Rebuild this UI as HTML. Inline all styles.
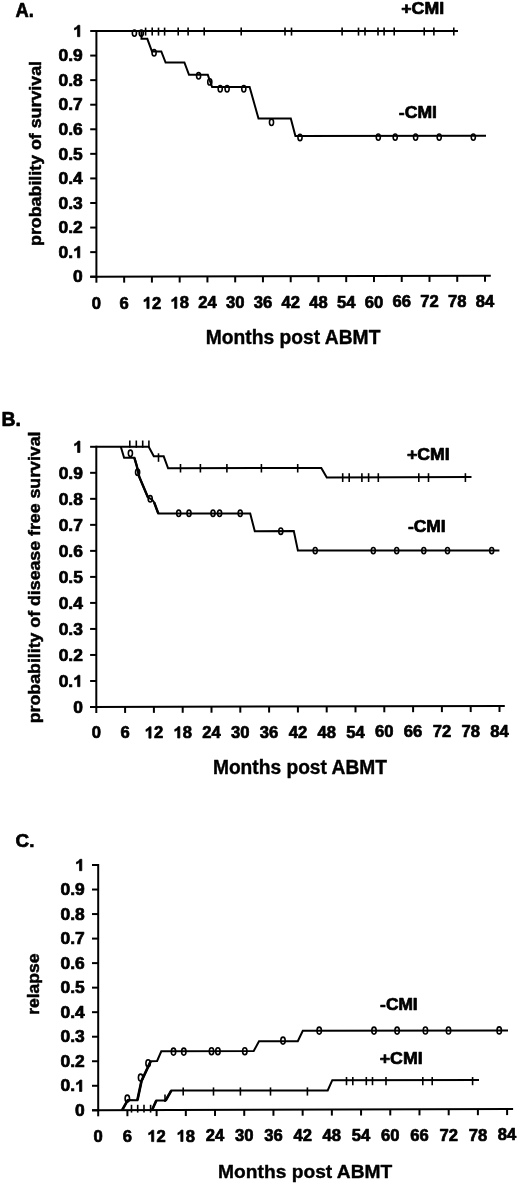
<!DOCTYPE html>
<html><head><meta charset="utf-8"><style>
html,body{margin:0;padding:0;background:#fff;overflow:hidden;}
svg{display:block;will-change:transform;filter:blur(0.3px);}
text{font-family:"Liberation Sans",sans-serif;font-weight:bold;fill:#000;stroke:#000;stroke-width:0.7px;stroke-linejoin:round;}
.t path{fill:#000;stroke:#000;stroke-linejoin:round;}
</style></head><body>
<svg width="520" height="1185" viewBox="0 0 520 1185">
<g stroke="#000" stroke-linecap="butt" fill="none">
<line x1="96.40" y1="30.00" x2="96.40" y2="277.70" stroke-width="2.0"/>
<line x1="90.20" y1="276.71" x2="490.80" y2="275.79" stroke-width="2.0"/>
<line x1="90.20" y1="31.00" x2="96.40" y2="31.00" stroke-width="2.0"/>
<line x1="90.20" y1="55.57" x2="96.40" y2="55.57" stroke-width="2.0"/>
<line x1="90.20" y1="80.14" x2="96.40" y2="80.14" stroke-width="2.0"/>
<line x1="90.20" y1="104.71" x2="96.40" y2="104.71" stroke-width="2.0"/>
<line x1="90.20" y1="129.28" x2="96.40" y2="129.28" stroke-width="2.0"/>
<line x1="90.20" y1="153.85" x2="96.40" y2="153.85" stroke-width="2.0"/>
<line x1="90.20" y1="178.42" x2="96.40" y2="178.42" stroke-width="2.0"/>
<line x1="90.20" y1="202.99" x2="96.40" y2="202.99" stroke-width="2.0"/>
<line x1="90.20" y1="227.56" x2="96.40" y2="227.56" stroke-width="2.0"/>
<line x1="90.20" y1="252.13" x2="96.40" y2="252.13" stroke-width="2.0"/>
<line x1="90.20" y1="276.70" x2="96.40" y2="276.70" stroke-width="2.0"/>
<line x1="96.40" y1="276.70" x2="96.40" y2="282.70" stroke-width="2.0"/>
<line x1="124.16" y1="276.64" x2="124.16" y2="282.64" stroke-width="2.0"/>
<line x1="151.91" y1="276.57" x2="151.91" y2="282.57" stroke-width="2.0"/>
<line x1="179.67" y1="276.51" x2="179.67" y2="282.51" stroke-width="2.0"/>
<line x1="207.43" y1="276.44" x2="207.43" y2="282.44" stroke-width="2.0"/>
<line x1="235.19" y1="276.38" x2="235.19" y2="282.38" stroke-width="2.0"/>
<line x1="262.94" y1="276.31" x2="262.94" y2="282.31" stroke-width="2.0"/>
<line x1="290.70" y1="276.25" x2="290.70" y2="282.25" stroke-width="2.0"/>
<line x1="318.46" y1="276.19" x2="318.46" y2="282.19" stroke-width="2.0"/>
<line x1="346.21" y1="276.12" x2="346.21" y2="282.12" stroke-width="2.0"/>
<line x1="373.97" y1="276.06" x2="373.97" y2="282.06" stroke-width="2.0"/>
<line x1="401.73" y1="275.99" x2="401.73" y2="281.99" stroke-width="2.0"/>
<line x1="429.49" y1="275.93" x2="429.49" y2="281.93" stroke-width="2.0"/>
<line x1="457.24" y1="275.86" x2="457.24" y2="281.86" stroke-width="2.0"/>
<line x1="485.00" y1="275.80" x2="485.00" y2="281.80" stroke-width="2.0"/>
<line x1="96.40" y1="31.00" x2="458.00" y2="31.00" stroke-width="2.0"/>
<line x1="145.60" y1="27.60" x2="145.60" y2="35.60" stroke-width="1.6"/>
<line x1="152.20" y1="27.60" x2="152.20" y2="35.60" stroke-width="1.6"/>
<line x1="158.50" y1="27.60" x2="158.50" y2="35.60" stroke-width="1.6"/>
<line x1="164.60" y1="27.60" x2="164.60" y2="35.60" stroke-width="1.6"/>
<line x1="178.20" y1="27.60" x2="178.20" y2="35.60" stroke-width="1.6"/>
<line x1="188.10" y1="27.60" x2="188.10" y2="35.60" stroke-width="1.6"/>
<line x1="204.20" y1="27.60" x2="204.20" y2="35.60" stroke-width="1.6"/>
<line x1="241.20" y1="27.60" x2="241.20" y2="35.60" stroke-width="1.6"/>
<line x1="285.00" y1="27.60" x2="285.00" y2="35.60" stroke-width="1.6"/>
<line x1="291.50" y1="27.60" x2="291.50" y2="35.60" stroke-width="1.6"/>
<line x1="342.10" y1="27.60" x2="342.10" y2="35.60" stroke-width="1.6"/>
<line x1="358.50" y1="27.60" x2="358.50" y2="35.60" stroke-width="1.6"/>
<line x1="365.00" y1="27.60" x2="365.00" y2="35.60" stroke-width="1.6"/>
<line x1="378.00" y1="27.60" x2="378.00" y2="35.60" stroke-width="1.6"/>
<line x1="384.10" y1="27.60" x2="384.10" y2="35.60" stroke-width="1.6"/>
<line x1="394.20" y1="27.60" x2="394.20" y2="35.60" stroke-width="1.6"/>
<line x1="424.20" y1="27.60" x2="424.20" y2="35.60" stroke-width="1.6"/>
<line x1="433.90" y1="27.60" x2="433.90" y2="35.60" stroke-width="1.6"/>
<line x1="453.80" y1="27.60" x2="453.80" y2="35.60" stroke-width="1.6"/>
<ellipse cx="134.40" cy="33.10" rx="2.05" ry="3.15" stroke-width="1.6"/>
<ellipse cx="141.30" cy="33.10" rx="2.05" ry="3.15" stroke-width="1.6"/>
<polyline points="96.40,31.00 141.50,31.00 141.50,38.80 147.30,38.80 152.00,51.50 161.30,51.50 165.60,62.50 184.40,62.50 189.00,74.80 207.80,74.80 212.10,87.10 249.60,87.10 258.50,118.50 290.80,118.50 295.40,135.90 486.00,135.80" stroke-width="2.0" stroke-linejoin="miter"/>
<ellipse cx="154.10" cy="52.80" rx="2.05" ry="3.15" stroke-width="1.6"/>
<ellipse cx="198.60" cy="75.80" rx="2.05" ry="3.15" stroke-width="1.6"/>
<ellipse cx="209.80" cy="81.90" rx="2.05" ry="3.15" stroke-width="1.6"/>
<ellipse cx="220.20" cy="88.80" rx="2.05" ry="3.15" stroke-width="1.6"/>
<ellipse cx="227.10" cy="88.80" rx="2.05" ry="3.15" stroke-width="1.6"/>
<ellipse cx="243.80" cy="88.80" rx="2.05" ry="3.15" stroke-width="1.6"/>
<ellipse cx="271.50" cy="122.30" rx="2.05" ry="3.15" stroke-width="1.6"/>
<ellipse cx="300.00" cy="137.50" rx="2.05" ry="3.15" stroke-width="1.6"/>
<ellipse cx="378.30" cy="137.10" rx="2.05" ry="3.15" stroke-width="1.6"/>
<ellipse cx="395.20" cy="137.10" rx="2.05" ry="3.15" stroke-width="1.6"/>
<ellipse cx="415.60" cy="137.10" rx="2.05" ry="3.15" stroke-width="1.6"/>
<ellipse cx="439.20" cy="137.10" rx="2.05" ry="3.15" stroke-width="1.6"/>
<ellipse cx="473.30" cy="137.10" rx="2.05" ry="3.15" stroke-width="1.6"/>
<line x1="96.30" y1="445.80" x2="96.30" y2="708.00" stroke-width="2.0"/>
<line x1="90.10" y1="707.02" x2="504.80" y2="705.99" stroke-width="2.0"/>
<line x1="90.10" y1="446.80" x2="96.30" y2="446.80" stroke-width="2.0"/>
<line x1="90.10" y1="472.82" x2="96.30" y2="472.82" stroke-width="2.0"/>
<line x1="90.10" y1="498.84" x2="96.30" y2="498.84" stroke-width="2.0"/>
<line x1="90.10" y1="524.86" x2="96.30" y2="524.86" stroke-width="2.0"/>
<line x1="90.10" y1="550.88" x2="96.30" y2="550.88" stroke-width="2.0"/>
<line x1="90.10" y1="576.90" x2="96.30" y2="576.90" stroke-width="2.0"/>
<line x1="90.10" y1="602.92" x2="96.30" y2="602.92" stroke-width="2.0"/>
<line x1="90.10" y1="628.94" x2="96.30" y2="628.94" stroke-width="2.0"/>
<line x1="90.10" y1="654.96" x2="96.30" y2="654.96" stroke-width="2.0"/>
<line x1="90.10" y1="680.98" x2="96.30" y2="680.98" stroke-width="2.0"/>
<line x1="90.10" y1="707.00" x2="96.30" y2="707.00" stroke-width="2.0"/>
<line x1="96.30" y1="707.00" x2="96.30" y2="713.00" stroke-width="2.0"/>
<line x1="125.10" y1="706.93" x2="125.10" y2="712.93" stroke-width="2.0"/>
<line x1="153.90" y1="706.86" x2="153.90" y2="712.86" stroke-width="2.0"/>
<line x1="182.70" y1="706.79" x2="182.70" y2="712.79" stroke-width="2.0"/>
<line x1="211.50" y1="706.71" x2="211.50" y2="712.71" stroke-width="2.0"/>
<line x1="240.30" y1="706.64" x2="240.30" y2="712.64" stroke-width="2.0"/>
<line x1="269.10" y1="706.57" x2="269.10" y2="712.57" stroke-width="2.0"/>
<line x1="297.90" y1="706.50" x2="297.90" y2="712.50" stroke-width="2.0"/>
<line x1="326.70" y1="706.43" x2="326.70" y2="712.43" stroke-width="2.0"/>
<line x1="355.50" y1="706.36" x2="355.50" y2="712.36" stroke-width="2.0"/>
<line x1="384.30" y1="706.29" x2="384.30" y2="712.29" stroke-width="2.0"/>
<line x1="413.10" y1="706.21" x2="413.10" y2="712.21" stroke-width="2.0"/>
<line x1="441.90" y1="706.14" x2="441.90" y2="712.14" stroke-width="2.0"/>
<line x1="470.70" y1="706.07" x2="470.70" y2="712.07" stroke-width="2.0"/>
<line x1="499.50" y1="706.00" x2="499.50" y2="712.00" stroke-width="2.0"/>
<polyline points="96.30,446.70 148.70,446.70 153.80,456.30 163.70,456.30 168.10,468.30 321.30,467.90 326.80,477.50 471.50,477.00" stroke-width="2.0" stroke-linejoin="miter"/>
<line x1="129.80" y1="440.50" x2="129.80" y2="447.70" stroke-width="1.6"/>
<line x1="136.30" y1="440.50" x2="136.30" y2="447.70" stroke-width="1.6"/>
<line x1="142.70" y1="440.50" x2="142.70" y2="447.70" stroke-width="1.6"/>
<line x1="148.90" y1="440.50" x2="148.90" y2="447.70" stroke-width="1.6"/>
<line x1="158.50" y1="453.30" x2="158.50" y2="461.80" stroke-width="1.6"/>
<line x1="180.50" y1="464.00" x2="180.50" y2="472.50" stroke-width="1.6"/>
<line x1="200.40" y1="464.00" x2="200.40" y2="472.50" stroke-width="1.6"/>
<line x1="226.90" y1="464.00" x2="226.90" y2="472.50" stroke-width="1.6"/>
<line x1="261.40" y1="464.00" x2="261.40" y2="472.50" stroke-width="1.6"/>
<line x1="297.70" y1="464.00" x2="297.70" y2="472.50" stroke-width="1.6"/>
<line x1="342.70" y1="473.20" x2="342.70" y2="482.00" stroke-width="1.6"/>
<line x1="349.20" y1="473.20" x2="349.20" y2="482.00" stroke-width="1.6"/>
<line x1="361.90" y1="473.20" x2="361.90" y2="482.00" stroke-width="1.6"/>
<line x1="368.60" y1="473.20" x2="368.60" y2="482.00" stroke-width="1.6"/>
<line x1="378.30" y1="473.20" x2="378.30" y2="482.00" stroke-width="1.6"/>
<line x1="418.80" y1="473.20" x2="418.80" y2="482.00" stroke-width="1.6"/>
<line x1="428.50" y1="473.20" x2="428.50" y2="482.00" stroke-width="1.6"/>
<line x1="465.40" y1="473.20" x2="465.40" y2="482.00" stroke-width="1.6"/>
<polyline points="120.80,446.70 124.10,457.80 134.40,457.80 136.80,466.00 139.30,477.00 147.90,497.30 152.00,499.50 154.20,502.50 158.30,513.50 250.20,513.50 254.80,531.20 293.80,531.00 297.90,550.60 499.40,550.60" stroke-width="2.0" stroke-linejoin="miter"/>
<polyline points="134.40,457.80 136.80,466.00 139.30,477.00 147.90,497.30" stroke-width="2.4" stroke-linejoin="miter"/>
<polyline points="154.20,502.50 158.30,513.50" stroke-width="2.4" stroke-linejoin="miter"/>
<ellipse cx="130.40" cy="453.30" rx="2.05" ry="3.15" stroke-width="1.6"/>
<ellipse cx="137.60" cy="472.20" rx="2.05" ry="3.15" stroke-width="1.6"/>
<ellipse cx="150.20" cy="498.80" rx="2.05" ry="3.15" stroke-width="1.6"/>
<ellipse cx="178.70" cy="513.30" rx="2.05" ry="3.15" stroke-width="1.6"/>
<ellipse cx="189.00" cy="513.30" rx="2.05" ry="3.15" stroke-width="1.6"/>
<ellipse cx="213.00" cy="513.30" rx="2.05" ry="3.15" stroke-width="1.6"/>
<ellipse cx="219.60" cy="513.30" rx="2.05" ry="3.15" stroke-width="1.6"/>
<ellipse cx="240.20" cy="513.30" rx="2.05" ry="3.15" stroke-width="1.6"/>
<ellipse cx="280.80" cy="531.20" rx="2.05" ry="3.15" stroke-width="1.6"/>
<ellipse cx="315.20" cy="550.60" rx="2.05" ry="3.15" stroke-width="1.6"/>
<ellipse cx="373.30" cy="550.60" rx="2.05" ry="3.15" stroke-width="1.6"/>
<ellipse cx="396.70" cy="550.60" rx="2.05" ry="3.15" stroke-width="1.6"/>
<ellipse cx="423.80" cy="550.60" rx="2.05" ry="3.15" stroke-width="1.6"/>
<ellipse cx="447.50" cy="550.60" rx="2.05" ry="3.15" stroke-width="1.6"/>
<ellipse cx="491.70" cy="550.60" rx="2.05" ry="3.15" stroke-width="1.6"/>
<line x1="98.20" y1="864.00" x2="98.20" y2="1111.30" stroke-width="2.0"/>
<line x1="92.00" y1="1110.32" x2="513.10" y2="1109.08" stroke-width="2.0"/>
<line x1="92.00" y1="865.00" x2="98.20" y2="865.00" stroke-width="2.0"/>
<line x1="92.00" y1="889.53" x2="98.20" y2="889.53" stroke-width="2.0"/>
<line x1="92.00" y1="914.06" x2="98.20" y2="914.06" stroke-width="2.0"/>
<line x1="92.00" y1="938.59" x2="98.20" y2="938.59" stroke-width="2.0"/>
<line x1="92.00" y1="963.12" x2="98.20" y2="963.12" stroke-width="2.0"/>
<line x1="92.00" y1="987.65" x2="98.20" y2="987.65" stroke-width="2.0"/>
<line x1="92.00" y1="1012.18" x2="98.20" y2="1012.18" stroke-width="2.0"/>
<line x1="92.00" y1="1036.71" x2="98.20" y2="1036.71" stroke-width="2.0"/>
<line x1="92.00" y1="1061.24" x2="98.20" y2="1061.24" stroke-width="2.0"/>
<line x1="92.00" y1="1085.77" x2="98.20" y2="1085.77" stroke-width="2.0"/>
<line x1="92.00" y1="1110.30" x2="98.20" y2="1110.30" stroke-width="2.0"/>
<line x1="98.20" y1="1110.30" x2="98.20" y2="1116.30" stroke-width="2.0"/>
<line x1="127.41" y1="1110.21" x2="127.41" y2="1116.21" stroke-width="2.0"/>
<line x1="156.61" y1="1110.13" x2="156.61" y2="1116.13" stroke-width="2.0"/>
<line x1="185.82" y1="1110.04" x2="185.82" y2="1116.04" stroke-width="2.0"/>
<line x1="215.03" y1="1109.96" x2="215.03" y2="1115.96" stroke-width="2.0"/>
<line x1="244.24" y1="1109.87" x2="244.24" y2="1115.87" stroke-width="2.0"/>
<line x1="273.44" y1="1109.79" x2="273.44" y2="1115.79" stroke-width="2.0"/>
<line x1="302.65" y1="1109.70" x2="302.65" y2="1115.70" stroke-width="2.0"/>
<line x1="331.86" y1="1109.61" x2="331.86" y2="1115.61" stroke-width="2.0"/>
<line x1="361.06" y1="1109.53" x2="361.06" y2="1115.53" stroke-width="2.0"/>
<line x1="390.27" y1="1109.44" x2="390.27" y2="1115.44" stroke-width="2.0"/>
<line x1="419.48" y1="1109.36" x2="419.48" y2="1115.36" stroke-width="2.0"/>
<line x1="448.69" y1="1109.27" x2="448.69" y2="1115.27" stroke-width="2.0"/>
<line x1="477.89" y1="1109.19" x2="477.89" y2="1115.19" stroke-width="2.0"/>
<line x1="507.10" y1="1109.10" x2="507.10" y2="1115.10" stroke-width="2.0"/>
<polyline points="122.10,1110.20 127.80,1100.10 137.40,1100.20 141.50,1081.00 150.70,1061.30 157.10,1061.00 161.30,1051.30 253.70,1051.10 259.00,1041.30 297.80,1041.30 302.80,1030.70 508.00,1030.40" stroke-width="2.0" stroke-linejoin="miter"/>
<ellipse cx="127.30" cy="1098.60" rx="2.2" ry="3.5" stroke-width="1.6"/>
<ellipse cx="140.60" cy="1077.60" rx="2.2" ry="3.5" stroke-width="1.6"/>
<ellipse cx="148.10" cy="1063.30" rx="2.2" ry="3.5" stroke-width="1.6"/>
<ellipse cx="173.50" cy="1051.60" rx="2.2" ry="3.5" stroke-width="1.6"/>
<ellipse cx="183.80" cy="1051.60" rx="2.2" ry="3.5" stroke-width="1.6"/>
<ellipse cx="211.50" cy="1051.30" rx="2.2" ry="3.5" stroke-width="1.6"/>
<ellipse cx="217.90" cy="1051.30" rx="2.2" ry="3.5" stroke-width="1.6"/>
<ellipse cx="244.80" cy="1051.30" rx="2.2" ry="3.5" stroke-width="1.6"/>
<ellipse cx="283.00" cy="1040.60" rx="2.2" ry="3.5" stroke-width="1.6"/>
<ellipse cx="319.20" cy="1030.60" rx="2.2" ry="3.5" stroke-width="1.6"/>
<ellipse cx="374.00" cy="1030.60" rx="2.2" ry="3.5" stroke-width="1.6"/>
<ellipse cx="397.10" cy="1030.60" rx="2.2" ry="3.5" stroke-width="1.6"/>
<ellipse cx="425.40" cy="1030.50" rx="2.2" ry="3.5" stroke-width="1.6"/>
<ellipse cx="448.50" cy="1030.50" rx="2.2" ry="3.5" stroke-width="1.6"/>
<ellipse cx="499.20" cy="1030.40" rx="2.2" ry="3.5" stroke-width="1.6"/>
<polyline points="152.00,1110.20 156.30,1100.50 165.60,1100.50 171.30,1090.60 327.70,1090.50 332.30,1080.20 479.00,1080.10" stroke-width="2.0" stroke-linejoin="miter"/>
<polyline points="122.10,1110.20 127.80,1100.10" stroke-width="2.6" stroke-linejoin="miter"/>
<polyline points="137.40,1100.20 141.50,1081.00 150.70,1061.30" stroke-width="2.7" stroke-linejoin="miter"/>
<polyline points="152.00,1110.20 156.30,1100.50" stroke-width="2.6" stroke-linejoin="miter"/>
<polyline points="165.60,1100.50 171.30,1090.60" stroke-width="2.6" stroke-linejoin="miter"/>
<line x1="131.50" y1="1104.80" x2="131.50" y2="1112.60" stroke-width="1.6"/>
<line x1="137.70" y1="1104.80" x2="137.70" y2="1112.60" stroke-width="1.6"/>
<line x1="144.00" y1="1104.80" x2="144.00" y2="1112.60" stroke-width="1.6"/>
<line x1="150.60" y1="1104.80" x2="150.60" y2="1112.60" stroke-width="1.6"/>
<line x1="165.00" y1="1094.50" x2="165.00" y2="1102.00" stroke-width="1.6"/>
<line x1="183.20" y1="1087.40" x2="183.20" y2="1095.60" stroke-width="1.6"/>
<line x1="213.50" y1="1087.40" x2="213.50" y2="1095.60" stroke-width="1.6"/>
<line x1="240.40" y1="1087.40" x2="240.40" y2="1095.60" stroke-width="1.6"/>
<line x1="270.50" y1="1087.40" x2="270.50" y2="1095.60" stroke-width="1.6"/>
<line x1="307.40" y1="1087.40" x2="307.40" y2="1095.60" stroke-width="1.6"/>
<line x1="346.50" y1="1077.00" x2="346.50" y2="1085.20" stroke-width="1.6"/>
<line x1="352.80" y1="1077.00" x2="352.80" y2="1085.20" stroke-width="1.6"/>
<line x1="366.30" y1="1077.00" x2="366.30" y2="1085.20" stroke-width="1.6"/>
<line x1="372.50" y1="1077.00" x2="372.50" y2="1085.20" stroke-width="1.6"/>
<line x1="386.00" y1="1077.00" x2="386.00" y2="1085.20" stroke-width="1.6"/>
<line x1="422.80" y1="1077.00" x2="422.80" y2="1085.20" stroke-width="1.6"/>
<line x1="432.20" y1="1077.00" x2="432.20" y2="1085.20" stroke-width="1.6"/>
<line x1="472.60" y1="1077.00" x2="472.60" y2="1085.20" stroke-width="1.6"/>
</g>
<g class="t">
<text transform="translate(15.47,16.75) scale(0.9363,1)" font-size="19.62" style="stroke-width:0.7px">A.</text>
<path transform="translate(73.11,36.71) scale(0.00851,-0.00811)" d="M790,0 L515,0 L515,1036 Q365,896 160,829 L160,1078 Q268,1113 394,1212 Q520,1311 567,1409 L790,1409 Z" stroke-width="86.4"/>
<text transform="translate(58.57,61.28) scale(1.05,1)" font-size="16.60">0.9</text>
<text transform="translate(58.57,85.85) scale(1.05,1)" font-size="16.60">0.8</text>
<text transform="translate(58.57,110.42) scale(1.05,1)" font-size="16.60">0.7</text>
<text transform="translate(58.57,134.99) scale(1.05,1)" font-size="16.60">0.6</text>
<text transform="translate(58.57,159.56) scale(1.05,1)" font-size="16.60">0.5</text>
<text transform="translate(58.57,184.13) scale(1.05,1)" font-size="16.60">0.4</text>
<text transform="translate(58.57,208.70) scale(1.05,1)" font-size="16.60">0.3</text>
<text transform="translate(58.57,233.27) scale(1.05,1)" font-size="16.60">0.2</text>
<text transform="translate(58.57,257.84) scale(1.05,1)" font-size="16.60">0.</text>
<path transform="translate(73.11,257.84) scale(0.00851,-0.00811)" d="M790,0 L515,0 L515,1036 Q365,896 160,829 L160,1078 Q268,1113 394,1212 Q520,1311 567,1409 L790,1409 Z" stroke-width="86.4"/>
<text transform="translate(73.11,282.41) scale(1.05,1)" font-size="16.60">0</text>
<text transform="translate(91.78,308.80) scale(1.0,1)" font-size="16.60">0</text>
<text transform="translate(119.54,308.67) scale(1.0,1)" font-size="16.60">6</text>
<path transform="translate(142.68,308.54) scale(0.00811,-0.00811)" d="M790,0 L515,0 L515,1036 Q365,896 160,829 L160,1078 Q268,1113 394,1212 Q520,1311 567,1409 L790,1409 Z" stroke-width="86.4"/>
<text transform="translate(151.91,308.54) scale(1.0,1)" font-size="16.60">2</text>
<path transform="translate(170.44,308.41) scale(0.00811,-0.00811)" d="M790,0 L515,0 L515,1036 Q365,896 160,829 L160,1078 Q268,1113 394,1212 Q520,1311 567,1409 L790,1409 Z" stroke-width="86.4"/>
<text transform="translate(179.67,308.41) scale(1.0,1)" font-size="16.60">8</text>
<text transform="translate(198.20,308.29) scale(1.0,1)" font-size="16.60">24</text>
<text transform="translate(225.95,308.16) scale(1.0,1)" font-size="16.60">30</text>
<text transform="translate(253.71,308.03) scale(1.0,1)" font-size="16.60">36</text>
<text transform="translate(281.47,307.90) scale(1.0,1)" font-size="16.60">42</text>
<text transform="translate(309.22,307.77) scale(1.0,1)" font-size="16.60">48</text>
<text transform="translate(336.98,307.64) scale(1.0,1)" font-size="16.60">54</text>
<text transform="translate(364.74,307.51) scale(1.0,1)" font-size="16.60">60</text>
<text transform="translate(392.50,307.39) scale(1.0,1)" font-size="16.60">66</text>
<text transform="translate(420.25,307.26) scale(1.0,1)" font-size="16.60">72</text>
<text transform="translate(448.01,307.13) scale(1.0,1)" font-size="16.60">78</text>
<text transform="translate(475.77,307.00) scale(1.0,1)" font-size="16.60">84</text>
<text transform="translate(401.24,14.45) scale(1.0861,1)" font-size="16.33" style="stroke-width:0.7px">+CMI</text>
<text transform="translate(398.87,117.75) scale(1.0245,1)" font-size="17.19" style="stroke-width:0.7px">-CMI</text>
<text transform="translate(40.55,245.92) rotate(-90) scale(1.0287,1)" font-size="17.31" style="stroke-width:0.5px">probability of survival</text>
<text transform="translate(205.71,344.40) scale(0.9893,1)" font-size="19.48" style="stroke-width:0.4px">Months post ABMT</text>
<text transform="translate(1.54,425.85) scale(0.9913,1)" font-size="19.62" style="stroke-width:0.7px">B.</text>
<path transform="translate(73.21,452.51) scale(0.00851,-0.00811)" d="M790,0 L515,0 L515,1036 Q365,896 160,829 L160,1078 Q268,1113 394,1212 Q520,1311 567,1409 L790,1409 Z" stroke-width="86.4"/>
<text transform="translate(58.67,478.53) scale(1.05,1)" font-size="16.60">0.9</text>
<text transform="translate(58.67,504.55) scale(1.05,1)" font-size="16.60">0.8</text>
<text transform="translate(58.67,530.57) scale(1.05,1)" font-size="16.60">0.7</text>
<text transform="translate(58.67,556.59) scale(1.05,1)" font-size="16.60">0.6</text>
<text transform="translate(58.67,582.61) scale(1.05,1)" font-size="16.60">0.5</text>
<text transform="translate(58.67,608.63) scale(1.05,1)" font-size="16.60">0.4</text>
<text transform="translate(58.67,634.65) scale(1.05,1)" font-size="16.60">0.3</text>
<text transform="translate(58.67,660.67) scale(1.05,1)" font-size="16.60">0.2</text>
<text transform="translate(58.67,686.69) scale(1.05,1)" font-size="16.60">0.</text>
<path transform="translate(73.21,686.69) scale(0.00851,-0.00811)" d="M790,0 L515,0 L515,1036 Q365,896 160,829 L160,1078 Q268,1113 394,1212 Q520,1311 567,1409 L790,1409 Z" stroke-width="86.4"/>
<text transform="translate(73.21,712.71) scale(1.05,1)" font-size="16.60">0</text>
<text transform="translate(91.68,738.30) scale(1.0,1)" font-size="16.60">0</text>
<text transform="translate(120.48,738.21) scale(1.0,1)" font-size="16.60">6</text>
<path transform="translate(144.67,738.13) scale(0.00811,-0.00811)" d="M790,0 L515,0 L515,1036 Q365,896 160,829 L160,1078 Q268,1113 394,1212 Q520,1311 567,1409 L790,1409 Z" stroke-width="86.4"/>
<text transform="translate(153.90,738.13) scale(1.0,1)" font-size="16.60">2</text>
<path transform="translate(173.47,738.04) scale(0.00811,-0.00811)" d="M790,0 L515,0 L515,1036 Q365,896 160,829 L160,1078 Q268,1113 394,1212 Q520,1311 567,1409 L790,1409 Z" stroke-width="86.4"/>
<text transform="translate(182.70,738.04) scale(1.0,1)" font-size="16.60">8</text>
<text transform="translate(202.27,737.96) scale(1.0,1)" font-size="16.60">24</text>
<text transform="translate(231.07,737.87) scale(1.0,1)" font-size="16.60">30</text>
<text transform="translate(259.87,737.79) scale(1.0,1)" font-size="16.60">36</text>
<text transform="translate(288.67,737.70) scale(1.0,1)" font-size="16.60">42</text>
<text transform="translate(317.47,737.61) scale(1.0,1)" font-size="16.60">48</text>
<text transform="translate(346.27,737.53) scale(1.0,1)" font-size="16.60">54</text>
<text transform="translate(375.07,737.44) scale(1.0,1)" font-size="16.60">60</text>
<text transform="translate(403.87,737.36) scale(1.0,1)" font-size="16.60">66</text>
<text transform="translate(432.67,737.27) scale(1.0,1)" font-size="16.60">72</text>
<text transform="translate(461.47,737.19) scale(1.0,1)" font-size="16.60">78</text>
<text transform="translate(490.27,737.10) scale(1.0,1)" font-size="16.60">84</text>
<text transform="translate(407.04,459.65) scale(1.0903,1)" font-size="16.19" style="stroke-width:0.7px">+CMI</text>
<text transform="translate(407.89,531.85) scale(1.0686,1)" font-size="16.33" style="stroke-width:0.7px">-CMI</text>
<text transform="translate(40.15,723.21) rotate(-90) scale(1.0251,1)" font-size="17.31" style="stroke-width:0.5px">probability of disease free survival</text>
<text transform="translate(212.91,774.30) scale(0.9853,1)" font-size="19.48" style="stroke-width:0.4px">Months post ABMT</text>
<text transform="translate(15.57,847.15) scale(0.9910,1)" font-size="19.05" style="stroke-width:0.7px">C.</text>
<path transform="translate(75.11,870.71) scale(0.00851,-0.00811)" d="M790,0 L515,0 L515,1036 Q365,896 160,829 L160,1078 Q268,1113 394,1212 Q520,1311 567,1409 L790,1409 Z" stroke-width="86.4"/>
<text transform="translate(60.57,895.24) scale(1.05,1)" font-size="16.60">0.9</text>
<text transform="translate(60.57,919.77) scale(1.05,1)" font-size="16.60">0.8</text>
<text transform="translate(60.57,944.30) scale(1.05,1)" font-size="16.60">0.7</text>
<text transform="translate(60.57,968.83) scale(1.05,1)" font-size="16.60">0.6</text>
<text transform="translate(60.57,993.36) scale(1.05,1)" font-size="16.60">0.5</text>
<text transform="translate(60.57,1017.89) scale(1.05,1)" font-size="16.60">0.4</text>
<text transform="translate(60.57,1042.42) scale(1.05,1)" font-size="16.60">0.3</text>
<text transform="translate(60.57,1066.95) scale(1.05,1)" font-size="16.60">0.2</text>
<text transform="translate(60.57,1091.48) scale(1.05,1)" font-size="16.60">0.</text>
<path transform="translate(75.11,1091.48) scale(0.00851,-0.00811)" d="M790,0 L515,0 L515,1036 Q365,896 160,829 L160,1078 Q268,1113 394,1212 Q520,1311 567,1409 L790,1409 Z" stroke-width="86.4"/>
<text transform="translate(75.11,1116.01) scale(1.05,1)" font-size="16.60">0</text>
<text transform="translate(93.58,1141.80) scale(1.0,1)" font-size="16.60">0</text>
<text transform="translate(122.79,1141.70) scale(1.0,1)" font-size="16.60">6</text>
<path transform="translate(147.38,1141.60) scale(0.00811,-0.00811)" d="M790,0 L515,0 L515,1036 Q365,896 160,829 L160,1078 Q268,1113 394,1212 Q520,1311 567,1409 L790,1409 Z" stroke-width="86.4"/>
<text transform="translate(156.61,1141.60) scale(1.0,1)" font-size="16.60">2</text>
<path transform="translate(176.59,1141.50) scale(0.00811,-0.00811)" d="M790,0 L515,0 L515,1036 Q365,896 160,829 L160,1078 Q268,1113 394,1212 Q520,1311 567,1409 L790,1409 Z" stroke-width="86.4"/>
<text transform="translate(185.82,1141.50) scale(1.0,1)" font-size="16.60">8</text>
<text transform="translate(205.80,1141.40) scale(1.0,1)" font-size="16.60">24</text>
<text transform="translate(235.00,1141.30) scale(1.0,1)" font-size="16.60">30</text>
<text transform="translate(264.21,1141.20) scale(1.0,1)" font-size="16.60">36</text>
<text transform="translate(293.42,1141.10) scale(1.0,1)" font-size="16.60">42</text>
<text transform="translate(322.62,1141.00) scale(1.0,1)" font-size="16.60">48</text>
<text transform="translate(351.83,1140.90) scale(1.0,1)" font-size="16.60">54</text>
<text transform="translate(381.04,1140.80) scale(1.0,1)" font-size="16.60">60</text>
<text transform="translate(410.25,1140.70) scale(1.0,1)" font-size="16.60">66</text>
<text transform="translate(439.45,1140.60) scale(1.0,1)" font-size="16.60">72</text>
<text transform="translate(468.66,1140.50) scale(1.0,1)" font-size="16.60">78</text>
<text transform="translate(497.87,1140.40) scale(1.0,1)" font-size="16.60">84</text>
<text transform="translate(380.10,1009.55) scale(1.0628,1)" font-size="16.33" style="stroke-width:0.7px">-CMI</text>
<text transform="translate(379.71,1063.85) scale(1.0243,1)" font-size="17.34" style="stroke-width:0.7px">+CMI</text>
<text transform="translate(38.55,1014.80) rotate(-90) scale(1.0120,1)" font-size="17.31" style="stroke-width:0.5px">relapse</text>
<text transform="translate(218.11,1177.80) scale(1.0008,1)" font-size="19.19" style="stroke-width:0.4px">Months post ABMT</text>
</g>
</svg>
</body></html>
